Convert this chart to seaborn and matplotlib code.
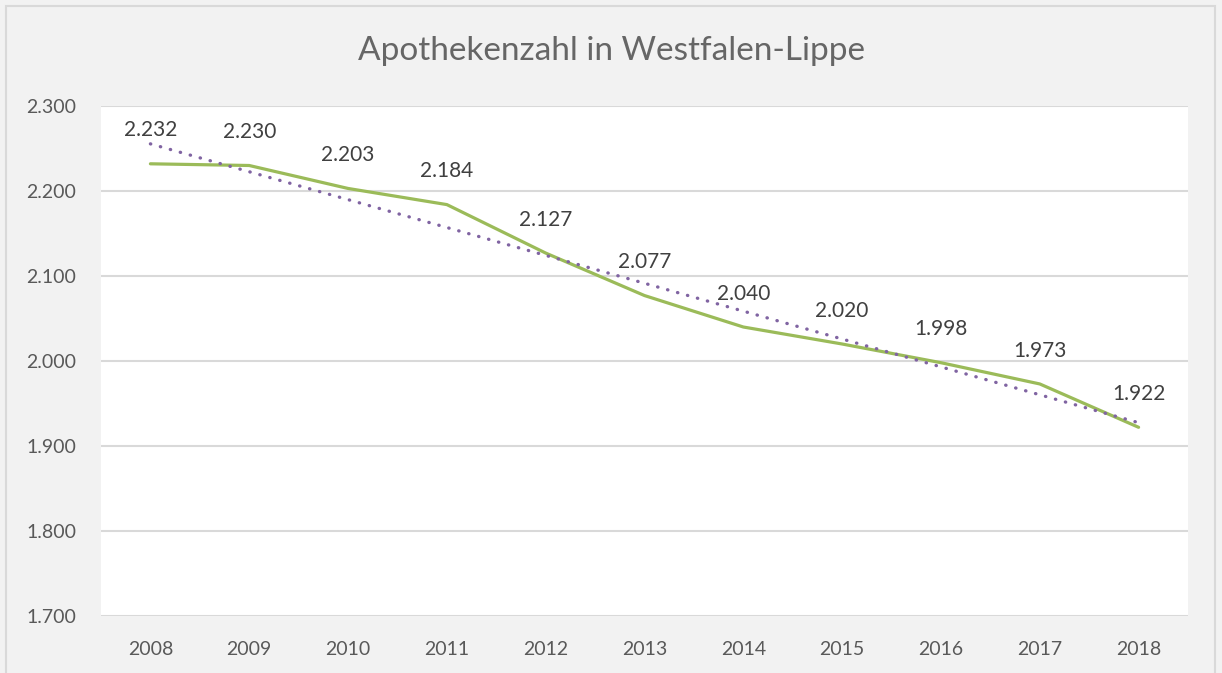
import numpy as np
import pandas as pd
import matplotlib
matplotlib.use('Agg')
import matplotlib.pyplot as plt
import seaborn as sns
from matplotlib.patches import Rectangle
from matplotlib.ticker import FuncFormatter

# ------------- data -------------
years = ['2008', '2009', '2010', '2011', '2012', '2013', '2014', '2015', '2016', '2017', '2018']
apotheken = [2232, 2230, 2203, 2184, 2127, 2077, 2040, 2020, 1998, 1973, 1922]
y_ticks = [1700, 1800, 1900, 2000, 2100, 2200, 2300]

df = pd.DataFrame({'idx': range(len(years)), 'jahr': years, 'anzahl': apotheken})

# ------------- theme -------------
GREEN = '#9bbb59'
PURPLE = '#8064a2'
GRID = '#d9d9d9'
BG = '#f2f2f2'
TXT = '#595959'

sns.set_theme(style='whitegrid')
plt.rcParams['font.family'] = ['Lato', 'DejaVu Sans']


def de_fmt(v, pos=None):
    return f'{v:,.0f}'.replace(',', '.')


fig = plt.figure(figsize=(12.22, 6.73), dpi=100, facecolor=BG)
ax = fig.add_axes([101 / 1222, 1 - 616 / 673, 1087 / 1222, 510 / 673])
ax.set_facecolor('white')

# outer chart border
fig.patches.append(Rectangle((6 / 1222, -0.05), 1209 / 1222, 1 - 6 / 673 + 0.05,
                             transform=fig.transFigure, fill=False,
                             edgecolor=GRID, linewidth=1.5))

# data line + linear trend
sns.lineplot(data=df, x='idx', y='anzahl', color=GREEN, linewidth=2.3, ax=ax)
sns.regplot(data=df, x='idx', y='anzahl', scatter=False, ci=None, ax=ax,
            line_kws={'color': PURPLE, 'linewidth': 2.4,
                      'linestyle': (0, (0.1, 3.0)), 'dash_capstyle': 'round'})

# data labels
for i, v in zip(df['idx'], df['anzahl']):
    ax.annotate(de_fmt(v), (i, v), xytext=(0, 24), textcoords='offset points',
                ha='center', va='center', fontsize=15, color='#404040')

ax.set_xlim(-0.5, len(years) - 0.5)
ax.set_ylim(1700, 2300)
ax.set_xticks(df['idx'])
ax.set_xticklabels(years)
ax.set_yticks(y_ticks)
ax.yaxis.set_major_formatter(FuncFormatter(de_fmt))
ax.tick_params(axis='both', length=0, labelsize=14, labelcolor=TXT)
ax.tick_params(axis='x', pad=18)
ax.tick_params(axis='y', pad=18)
ax.grid(axis='y', color=GRID, linewidth=1.5)
ax.grid(axis='x', visible=False)
ax.set_xlabel('')
ax.set_ylabel('')
for s in ax.spines.values():
    s.set_visible(False)

fig.text(0.5, 1 - 51 / 673, 'Apothekenzahl in Westfalen-Lippe', ha='center', va='center',
         fontsize=24, color='#666666', fontweight='normal')

fig.savefig('out.png', dpi=100, facecolor=BG)
